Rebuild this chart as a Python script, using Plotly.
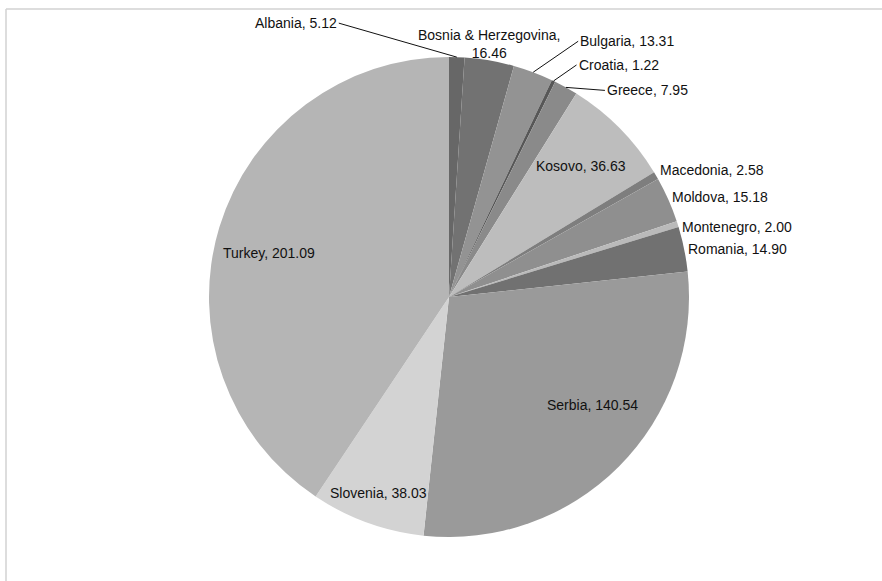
import math
import plotly.graph_objects as go

# Data: slice values per country (clockwise from 12 o'clock)
countries = ["Albania", "Bosnia & Herzegovina", "Bulgaria", "Croatia", "Greece",
             "Kosovo", "Macedonia", "Moldova", "Montenegro", "Romania",
             "Serbia", "Slovenia", "Turkey"]
values = [5.12, 16.46, 13.31, 1.22, 7.95, 36.63, 2.58, 15.18, 2.00, 14.90,
          140.54, 38.03, 201.09]

# Grey shades for each slice
colors = ["#676767", "#727272", "#939393", "#575757", "#8a8a8a", "#bdbdbd",
          "#7e7e7e", "#8f8f8f", "#bababa", "#717171", "#9a9a9a", "#d3d3d3",
          "#b5b5b5"]

# Label styling: mode, and for leader/inside labels the offsets
# mode: "lead" (leader line), "top" (above rim), "side" (right of rim), "in" (inside)
label_mode = ["lead", "top", "lead", "lead", "lead", "in", "side", "side",
              "side", "side", "in", "in", "in"]
lead_off = {0: (-118, -34, "right"), 2: (45, -31, "left"),
            3: (23, -16, "left"), 4: (39, 3, "left")}
side_yshift = {6: 6, 7: 3, 8: -3, 9: 0}
inside_pos = {5: (0.775, 0), 10: (0.75, -8), 11: (0.867, 0), 12: (0.773, -3)}

W, H = 882, 581
CX, CY, R = 449, 297, 240
FONT = dict(family="Liberation Sans, Arial, sans-serif", size=14, color="#111111")

fig = go.Figure(go.Pie(
    labels=countries, values=values, sort=False, direction="clockwise",
    rotation=0, marker=dict(colors=colors, line=dict(width=0)),
    textinfo="none", hoverinfo="label+value", showlegend=False,
    domain=dict(x=[(CX - R) / W, (CX + R) / W],
                y=[1 - (CY + R) / H, 1 - (CY - R) / H]),
))

total = sum(values)


def to_paper(px, py):
    return px / W, 1 - py / H


def rim_point(ang_deg, rf=1.0):
    a = math.radians(ang_deg)
    return CX + R * rf * math.sin(a), CY - R * rf * math.cos(a)


annotations = []
cum = 0.0
for i, (name, v) in enumerate(zip(countries, values)):
    mid = (cum + v / 2) / total * 360
    cum += v
    mode = label_mode[i]
    text = f"{name}, {v:.2f}"
    if mode == "lead":
        hx, hy = rim_point(mid)
        ax, ay, xa = lead_off[i]
        x, y = to_paper(hx, hy)
        annotations.append(dict(x=x, y=y, xref="paper", yref="paper", text=text,
                                showarrow=True, ax=ax, ay=ay, xanchor=xa,
                                yanchor="middle", arrowhead=0, arrowwidth=1,
                                arrowcolor="#111111", standoff=0, font=FONT))
    elif mode == "top":
        hx, hy = rim_point(mid)
        x, y = to_paper(hx, hy)
        annotations.append(dict(x=x, y=y, xref="paper", yref="paper",
                                text=f"{name},<br>{v:.2f}", showarrow=False,
                                xanchor="center", yanchor="bottom", yshift=-3,
                                font=FONT))
    elif mode == "side":
        hx, hy = rim_point(mid)
        x, y = to_paper(hx, hy)
        annotations.append(dict(x=x, y=y, xref="paper", yref="paper", text=text,
                                showarrow=False, xanchor="left", yanchor="middle",
                                xshift=2, yshift=side_yshift[i], font=FONT))
    else:
        rf, dth = inside_pos[i]
        hx, hy = rim_point(mid + dth, rf)
        x, y = to_paper(hx, hy)
        annotations.append(dict(x=x, y=y, xref="paper", yref="paper", text=text,
                                showarrow=False, xanchor="center", yanchor="middle",
                                font=FONT))

# Light frame along the top and left edges
shapes = [
    dict(type="line", xref="paper", yref="paper", x0=6 / W, x1=1, y0=1 - 9 / H,
         y1=1 - 9 / H, line=dict(color="#d2d2d2", width=1.5)),
    dict(type="line", xref="paper", yref="paper", x0=6 / W, x1=6 / W, y0=0,
         y1=1 - 9 / H, line=dict(color="#d2d2d2", width=1.5)),
]

fig.update_layout(width=W, height=H, margin=dict(l=0, r=0, t=0, b=0),
                  paper_bgcolor="white", plot_bgcolor="white",
                  annotations=annotations, shapes=shapes)

fig.write_html("out.html")
